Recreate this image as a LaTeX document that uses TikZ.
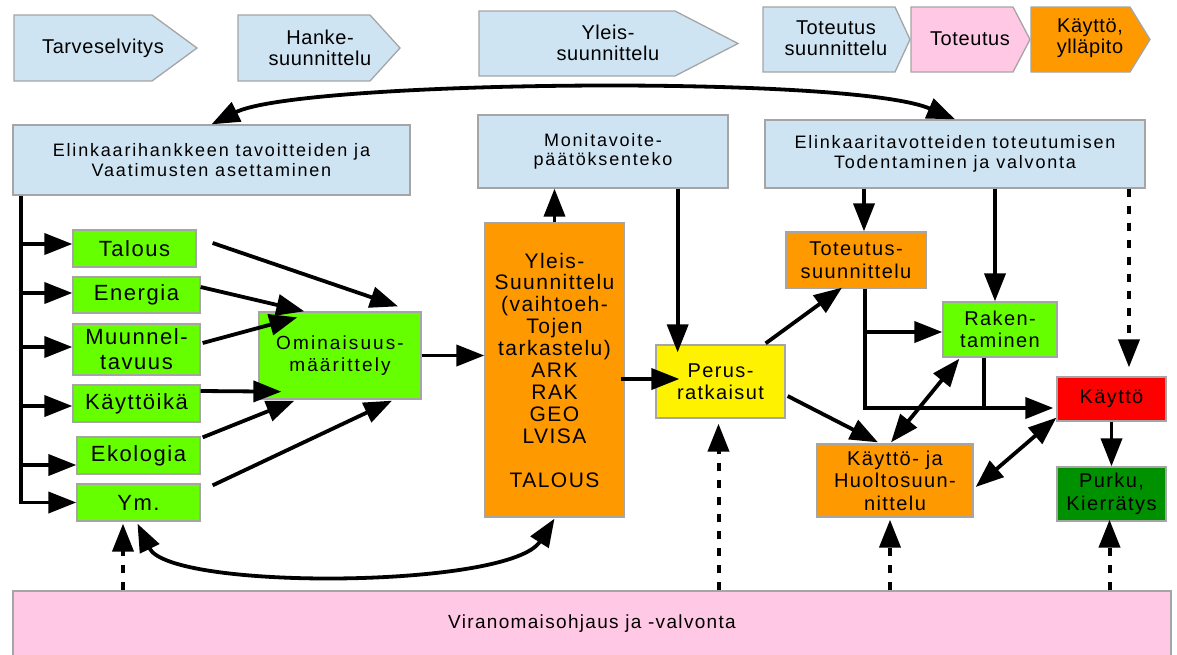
\documentclass[tikz,border=0pt]{standalone}
\usepackage{fontspec}
\setmainfont{Liberation Sans}
\newfontfamily\fTop{Liberation Sans}[LetterSpace=3]
\newfontfamily\fBlue{Liberation Sans}[LetterSpace=10]
\newfontfamily\fBox{Liberation Sans}[LetterSpace=7]
\newfontfamily\fWide{Liberation Sans}[LetterSpace=11]
\usetikzlibrary{arrows.meta,calc}

\definecolor{phaseblue}{RGB}{207,228,242}
\definecolor{phasepink}{RGB}{255,200,228}
\definecolor{phaseorange}{RGB}{255,153,0}
\definecolor{limegreen}{RGB}{102,255,0}
\definecolor{darkgreen}{RGB}{0,145,0}
\definecolor{rimgray}{RGB}{165,165,165}

\begin{document}
\begin{tikzpicture}[x=1pt,y=-1pt,
  chev/.style={draw=rimgray,line width=1.3pt},
  toptext/.style={align=center,inner sep=0pt,font=\fTop\fontsize{20}{21}\selectfont},
  box/.style={draw=rimgray,line width=1.3pt,inner sep=0pt,align=center,text=black},
  bluebox/.style={box,fill=phaseblue,font=\fBlue\fontsize{18}{19.5}\selectfont},
  factor/.style={box,fill=limegreen,font=\fBox\fontsize{22}{25}\selectfont},
  stagebox/.style={box,font=\fBox\fontsize{20}{22.5}\selectfont},
  sz/.style 2 args={minimum width=#1pt,minimum height=#2pt},
  tip/.tip={Triangle[length=28pt,width=21pt]},
  ln/.style={line width=3.8pt},
  arr/.style={line width=3.8pt,-tip},
  dbl/.style={line width=3.8pt,tip-tip},
  dsh/.style={line width=4pt,dash pattern=on 8pt off 9pt,-tip}
]
\useasboundingbox (0,0) rectangle (1177,654);

% phase chevrons along the top
\filldraw[chev,fill=phaseblue] (14,15) -- (152,15) -- (197,48) -- (152,81) -- (14,81) -- cycle;
\filldraw[chev,fill=phaseblue] (238,15) -- (370,15) -- (400,48) -- (370,81) -- (238,81) -- cycle;
\filldraw[chev,fill=phaseblue] (479,11) -- (675,11) -- (738,43.5) -- (675,76) -- (479,76) -- cycle;
\filldraw[chev,fill=phaseblue] (763,7) -- (895,7) -- (910,39.5) -- (895,72) -- (763,72) -- cycle;
\filldraw[chev,fill=phasepink] (911,7) -- (1013,7) -- (1030,39.5) -- (1013,72) -- (911,72) -- cycle;
\filldraw[chev,fill=phaseorange] (1031,7) -- (1130,7) -- (1150,39.5) -- (1130,72) -- (1031,72) -- cycle;
\node[toptext] (tarve) at (103,48) {Tarveselvitys};
\node[toptext] (hanke) at (320,47.5) {Hanke-\\suunnittelu};
\node[toptext] (yleisP) at (608,42.5) {Yleis-\\suunnittelu};
\node[toptext] (totsuP) at (836,38) {Toteutus\\suunnittelu};
\node[toptext] (totP) at (970,38.5) {Toteutus};
\node[toptext] (kaytP) at (1090,38) {Käyttö,\\ylläpito};

% goal / decision boxes
\node[bluebox,sz={397}{70}] (elinkL) at (211.5,160) {Elinkaarihankkeen tavoitteiden ja\\Vaatimusten asettaminen};
\node[bluebox,sz={250}{73}] (moni) at (603,151.5) {Monitavoite-\\päätöksenteko};
\node[bluebox,sz={380}{68}] (elinkR) at (955,154) {Elinkaaritavotteiden toteutumisen\\Todentaminen ja valvonta};

% requirement factors
\node[factor,sz={123}{37}] (talous) at (134.5,248.5) {Talous};
\node[factor,sz={127}{36}] (energia) at (136.5,295) {Energia};
\node[factor,sz={127}{51}] (muunnel) at (136.5,349.5) {Muunnel-\\tavuus};
\node[factor,sz={127}{37}] (kayttoika) at (136.5,403.5) {Käyttöikä};
\node[factor,sz={123}{37}] (ekologia) at (138.5,455.5) {Ekologia};
\node[factor,sz={123}{37}] (ym) at (138.5,502.5) {Ym.};

% design and life-cycle stages
\node[box,fill=limegreen,sz={162}{87},font=\fWide\fontsize{19}{22}\selectfont] (omin) at (340,355.5) {Ominaisuus-\\määrittely};
\node[box,fill=phaseorange,sz={139}{294},font=\fBox\fontsize{21}{21.9}\selectfont] (ysu) at (554.5,370)
  {Yleis-\\Suunnittelu\\(vaihtoeh-\\Tojen\\tarkastelu)\\ARK\\RAK\\GEO\\LVISA\\[21.9pt]TALOUS};
\node[stagebox,fill=yellow,sz={129}{73}] (perus) at (720.5,381.5) {Perus-\\ratkaisut};
\node[stagebox,fill=phaseorange,sz={140}{56}] (totsu) at (856,260) {Toteutus-\\suunnittelu};
\node[stagebox,fill=limegreen,sz={114}{55}] (rak) at (1000,329.5) {Raken-\\taminen};
\node[stagebox,fill=red,sz={109}{44}] (kayt) at (1111.5,399) {Käyttö};
\node[stagebox,fill=darkgreen,sz={109}{54}] (purku) at (1111.5,494) {Purku,\\Kierrätys};
\node[stagebox,fill=phaseorange,sz={156}{73}] (kh) at (895,480.5) {Käyttö- ja\\Huoltosuun-\\nittelu};
\node[box,fill=phasepink,sz={1158}{65},font=\fBox\fontsize{19}{21}\selectfont] (vir) at (592,623.5) {Viranomaisohjaus ja -valvonta};

% spine from the goal box to the factors
\coordinate (spTop) at ([xshift=9pt]elinkL.south west);
\coordinate (tIn) at ([yshift=4.5pt]talous.west);
\coordinate (eIn) at ([yshift=2pt]energia.west);
\coordinate (mIn) at ([yshift=2.5pt]muunnel.west);
\coordinate (kIn) at ([yshift=-2.5pt]kayttoika.west);
\coordinate (ekIn) at ([yshift=-9.5pt]ekologia.west);
\draw[arr] (spTop) |- (ym.west);
\draw[arr] (tIn -| spTop) -- (tIn);
\draw[arr] (eIn -| spTop) -- (eIn);
\draw[arr] (mIn -| spTop) -- (mIn);
\draw[arr] (kIn -| spTop) -- (kIn);
\draw[arr] (ekIn -| spTop) -- (ekIn);

% factors into the property definition
\draw[arr] ($(talous.east)+(16,-5.5)$) -- ($(omin.north)+(58,-5)$);
\draw[arr] ($(energia.east)+(0,-8)$) -- ($(omin.north west)+(46,0)$);
\draw[arr] ($(muunnel.east)+(2,-6.5)$) -- ($(omin.north west)+(39,6)$);
\draw[arr] ($(kayttoika.east)+(0,-12.5)$) -- ($(omin.south west)+(23,-8)$);
\draw[arr] ($(ekologia.north east)+(2,1)$) -- ($(omin.south west)+(36,1)$);
\draw[arr] ($(ym.north east)+(12,2)$) -- ($(omin.south)+(52,1)$);

% design flow
\draw[arr] (omin.east) -- (omin.east -| ysu.west);
\draw[arr] (ysu.north) -- (ysu.north |- moni.south);
\coordinate (mp) at ($(moni.south east)+(-51,0)$);
\draw[arr] (mp) -- ($(mp |- perus.north)+(0,8)$);
\draw[arr] ($(ysu.east)+(-4,9)$) -- ($(perus.west)+(24,-2.5)$);
\draw[arr] ($(perus.north east)+(-20,-1)$) -- ($(totsu.south)+(-14,-1)$);
\draw[arr] ($(perus.east)+(2,14.5)$) -- ($(kh.north)+(-17,-1)$);

% verification box to implementation stages
\coordinate (ta) at ([xshift=8pt]totsu.north);
\draw[arr] (ta |- elinkR.south) -- (ta);
\coordinate (ra) at ([xshift=-5pt]rak.north);
\draw[arr] (ra |- elinkR.south) -- (ra);
\coordinate (ka) at ($(kayt.north)+(17.5,-9)$);
\draw[dsh] (ka |- elinkR.south) -- (ka);

% implementation routes into use
\coordinate (tb) at ([xshift=9pt]totsu.south);
\coordinate (kin) at ($(kayt.west)+(-3,9)$);
\coordinate (rakIn) at ($(rak.west)+(0,2.5)$);
\coordinate (rb) at ($(rak.south)+(-16,0)$);
\draw[arr] (tb) |- (kin);
\draw[arr] (tb |- rakIn) -- (rakIn);
\draw[ln] (rb) -- (rb |- kin);
\draw[dbl] ($(rak.south west)+(17,1)$) -- ($(kh.north)+(-4,-1)$);
\draw[dbl] ($(kayt.south west)+(0,-4)$) -- ($(kh.east)+(2,6.5)$);
\draw[arr] (kayt.south) -- (kayt.south |- purku.north);

% authority supervision
\coordinate (yv) at ($(ym.south)+(-15.5,2)$);
\coordinate (pv) at ($(perus.south)+(-2,5)$);
\coordinate (kv) at ($(kh.south)+(-5,2)$);
\coordinate (uv) at ($(purku.south)+(-2,-2)$);
\draw[dsh] (yv |- vir.north) -- (yv);
\draw[dsh] (pv |- vir.north) -- (pv);
\draw[dsh] (kv |- vir.north) -- (kv);
\draw[dsh] (uv |- vir.north) -- (uv);

% feedback arcs
\draw[dbl] (elinkL.north) .. controls ($(elinkL.north)+(88,-44)$) and ($(elinkR.north)+(-105,-45)$) .. (elinkR.north);
\draw[dbl] ($(ym.south)+(-1,2)$) .. controls ($(ym.south)+(31.5,69)$) and ($(ysu.south)+(-44.5,71)$) .. ($(ysu.south)+(0,1)$);
\end{tikzpicture}
\end{document}
